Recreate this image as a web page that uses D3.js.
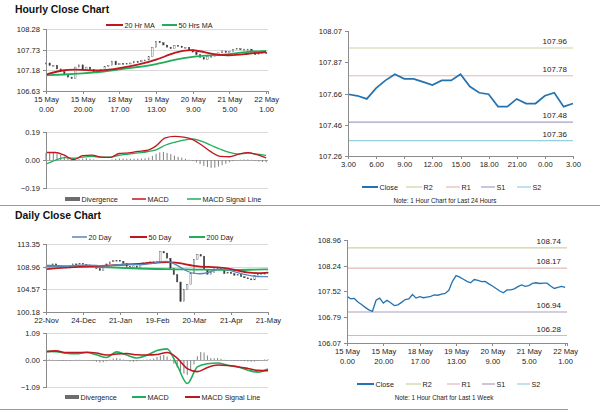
<!DOCTYPE html>
<html>
<head>
<meta charset="utf-8">
<script src="https://cdn.jsdelivr.net/npm/d3@7"></script>
<style>
body { margin: 0; background: #fff; }
svg { font-family: "Liberation Sans", Arial, sans-serif; }
.axis path, .axis line { stroke: #8c8c8c; shape-rendering: crispEdges; }
.axis text { fill: #222; font-size: 7.6px; }
.legend text { fill: #222; font-size: 7.2px; }
.title { font-size: 10.4px; font-weight: bold; fill: #111; }
.note { font-size: 6.3px; fill: #222; }
</style>
</head>
<body>
<div id="chart"></div>
<script>

/********************************************************************
* Data
*********************************************************************/
// hourly closes, one value every 2 bars (bar 0 = 15 May 0.00)
var hourStep = 2;
var hourClose = [107.38, 107.31, 107.32, 107.22, 107.15, 107.07, 107.00, 106.96, 107.27, 107.33,
	107.19, 107.27, 107.20, 107.12, 107.14, 107.21, 107.29, 107.31, 107.43, 107.33,
	107.37, 107.34, 107.36, 107.38, 107.42, 107.41, 107.44, 107.46, 107.55, 107.80,
	107.96, 107.92, 107.86, 107.80, 107.76, 107.85, 107.83, 107.79, 107.80, 107.73,
	107.67, 107.60, 107.53, 107.48, 107.56, 107.56, 107.59, 107.65, 107.70, 107.66,
	107.68, 107.74, 107.76, 107.74, 107.75, 107.75, 107.67, 107.60, 107.63, 107.66,
	107.63];
var hourBars = 121;

// moving averages, one value every 10 bars
var maStep = 10;
var ma20Hr = [107.07, 107.21, 107.20, 107.16, 107.24, 107.33, 107.45, 107.67, 107.76, 107.61, 107.57, 107.63, 107.67];
var ma50Hr = [107.05, 107.07, 107.10, 107.14, 107.21, 107.27, 107.34, 107.47, 107.55, 107.58, 107.61, 107.69, 107.70];

// hourly MACD, one value every 5 bars
var macdStep = 5;
var hourMacd = [0.051, 0.051, 0.033, 0.002, 0.029, 0.033, 0.020, 0.018, 0.044, 0.048, 0.058, 0.065, 0.096,
	0.150, 0.160, 0.155, 0.138, 0.100, 0.055, 0.025, 0.022, 0.040, 0.050, 0.036, 0.015];
var hourSignal = [-0.027, -0.002, 0.016, 0.012, 0.020, 0.024, 0.020, 0.020, 0.032, 0.040, 0.048, 0.056, 0.069,
	0.100, 0.120, 0.135, 0.144, 0.126, 0.100, 0.073, 0.051, 0.040, 0.046, 0.040, 0.031];
// hourly divergence, one value every 2 bars
var hourDiv = [0.050, 0.050, 0.048, 0.042, 0.034, 0.024, 0.012, -0.006, -0.004, 0.006,
	0.010, 0.012, 0.008, 0.004, 0.001, -0.002, -0.002, 0.000, 0.004, 0.008,
	0.010, 0.010, 0.009, 0.008, 0.008, 0.009, 0.010, 0.012, 0.016, 0.028,
	0.042, 0.052, 0.055, 0.048, 0.040, 0.030, 0.022, 0.016, 0.008, 0.002,
	-0.006, -0.016, -0.028, -0.040, -0.048, -0.053, -0.052, -0.045, -0.035, -0.025,
	-0.015, -0.008, -0.002, 0.002, 0.004, 0.004, 0.002, -0.004, -0.010, -0.014,
	-0.016];

var hourTickIdx = [0, 20, 40, 60, 80, 100, 120];
var hourTickDay = ["15 May", "15 May", "18 May", "19 May", "20 May", "21 May", "22 May"];
var hourTickTime = ["0.00", "20.00", "17.00", "13.00", "9.00", "5.00", "1.00"];

// last 24 hours
var dayClose = [107.66, 107.65, 107.63, 107.70, 107.75, 107.79, 107.76, 107.76, 107.74, 107.72,
	107.75, 107.75, 107.79, 107.71, 107.67, 107.66, 107.58, 107.58, 107.63, 107.60,
	107.60, 107.65, 107.67, 107.58, 107.60];
var dayTickIdx = [0, 3, 6, 9, 12, 15, 18, 21, 24];
var dayTickLabels = ["3.00", "6.00", "9.00", "12.00", "15.00", "18.00", "21.00", "0.00", "3.00"];
var levels24 = [107.96, 107.78, 107.48, 107.36];   // R2, R1, S1, S2
var levelsWeek = [108.74, 108.17, 106.94, 106.28];

// daily closes, one value every 2 bars (bar 0 = 22-Nov)
var dailyStep = 2;
var dailyClose = [108.9, 109.1, 109.5, 109.0, 108.8, 108.9, 108.7, 109.0, 109.5, 109.4,
	109.6, 109.4, 109.3, 109.1, 109.0, 108.6, 108.2, 108.9, 109.5, 109.9,
	110.1, 110.2, 110.0, 109.6, 109.0, 108.8, 109.1, 108.8, 109.5, 109.7,
	109.8, 109.9, 109.7, 109.9, 111.9, 111.6, 110.6, 108.6, 107.4, 106.0,
	102.2, 104.6, 105.5, 107.7, 110.4, 111.3, 111.0, 108.4, 107.5, 107.8,
	108.8, 108.7, 108.4, 107.6, 107.9, 107.6, 107.3, 107.5, 107.0, 106.8,
	106.6, 106.4, 107.2, 107.5, 107.6, 107.7, 107.8];
var dailyBars = 132;

var ma20Step = 6;
var ma20Day = [108.96, 108.9, 109.0, 109.2, 109.3, 109.2, 109.0, 109.3, 109.5, 109.3, 109.4, 109.8,
	110.2, 109.3, 107.9, 107.5, 107.7, 108.6, 108.4, 107.8, 107.3, 107.0, 107.05];
var maLongStep = 11;
var ma50Day = [108.5, 108.8, 109.0, 109.1, 109.3, 109.5, 109.8, 109.9, 109.0, 108.9, 108.6, 107.6, 107.8];
var ma200Day = [109.15, 109.05, 109.0, 108.9, 108.75, 108.6, 108.5, 108.45, 108.4, 108.35, 108.3, 108.35, 108.45];

// daily MACD, one value every 6 bars
var dMacdStep = 6;
var dailyMacd = [0.35, 0.34, 0.27, 0.25, 0.30, 0.21, 0.10, 0.33, 0.20, 0.08, 0.19, 0.38,
	0.45, -0.22, -0.95, -0.28, -0.15, -0.12, -0.21, -0.28, -0.41, -0.49, -0.36];
var dailySignal = [0.33, 0.37, 0.30, 0.30, 0.31, 0.28, 0.20, 0.24, 0.26, 0.21, 0.20, 0.22,
	0.30, 0.08, -0.35, -0.47, -0.30, -0.20, -0.22, -0.27, -0.34, -0.42, -0.43];
// daily divergence, one value every 2 bars
var dailyDiv = [0.01, 0.02, 0.01, -0.01, -0.03, -0.04, -0.03, -0.02, 0.00, 0.01,
	0.01, 0.00, -0.01, -0.02, -0.04, -0.07, -0.10, -0.09, -0.05, 0.02,
	0.06, 0.08, 0.06, 0.02, -0.02, -0.06, -0.07, -0.05, -0.02, 0.01,
	0.02, 0.03, 0.06, 0.12, 0.18, 0.20, 0.14, 0.02, -0.14, -0.30,
	-0.45, -0.55, -0.60, -0.45, -0.18, 0.15, 0.32, 0.30, 0.18, 0.08,
	0.07, 0.08, 0.05, 0.01, -0.01, -0.02, -0.03, -0.03, -0.04, -0.05,
	-0.06, -0.07, -0.06, -0.04, -0.01, 0.02, 0.03];

var dailyTickIdx = [0, 22, 44, 66, 88, 110, 132];
var dailyTickLabels = ["22-Nov", "24-Dec", "21-Jan", "19-Feb", "20-Mar", "21-Apr", "21-May"];

var levelNames = ["R2", "R1", "S1", "S2"];
var levelColors = ["#c9d6a0", "#e3b8b7", "#aa9fbf", "#97cfe0"];

/********************************************************************
* Helpers
*********************************************************************/
var svg = d3.select("#chart").append("svg")
	.attr("width", 600)
	.attr("height", 413);

var fmt = d3.format(".2f");

function yAxis(x0, y, ticks) {
	svg.append("g")
		.attr("class", "axis")
		.attr("transform", "translate(" + x0 + ",0)")
		.call(d3.axisLeft(y).tickValues(ticks).tickSize(3).tickPadding(3).tickFormat(fmt));
}

function grid(x, y, ticks, color) {
	svg.append("g").selectAll("line")
		.data(ticks)
		.enter()
		.append("line")
		.attr("x1", x.range()[0])
		.attr("x2", x.range()[1])
		.attr("y1", function(d){ return Math.round(y(d)) + 0.5; })
		.attr("y2", function(d){ return Math.round(y(d)) + 0.5; })
		.attr("stroke", color || "#d9d9d9");
}

function twoLineAxis(x, y0, idx, top, bottom) {
	var g = svg.append("g")
		.attr("class", "axis")
		.attr("transform", "translate(0," + y0 + ")")
		.call(d3.axisBottom(x).tickValues(idx).tickSize(3).tickPadding(3));
	g.selectAll(".tick text").each(function(d, i){
		var t = d3.select(this).text(null).attr("dy", 0);
		t.append("tspan").attr("x", 0).attr("dy", "0.71em").text(top[i]);
		t.append("tspan").attr("x", 0).attr("dy", "1.25em").text(bottom[i]);
	});
}

function oneLineAxis(x, y0, idx, labels) {
	svg.append("g")
		.attr("class", "axis")
		.attr("transform", "translate(0," + y0 + ")")
		.call(d3.axisBottom(x).tickValues(idx).tickSize(3).tickPadding(3)
			.tickFormat(function(d, i){ return labels[i]; }));
}

// body runs from the previous close to this close
function candles(x, y, data, step) {
	svg.append("g").selectAll("rect")
		.data(data)
		.enter()
		.append("rect")
		.attr("x", function(d, i){ return x(i * step) - 0.7; })
		.attr("width", 1.4)
		.attr("y", function(d, i){
			var o = i > 0 ? data[i - 1] : d;
			return y(Math.max(o, d));
		})
		.attr("height", function(d, i){
			var o = i > 0 ? data[i - 1] : d;
			return Math.max(1, Math.abs(y(o) - y(d)));
		})
		.attr("fill", function(d, i){
			var o = i > 0 ? data[i - 1] : d;
			return d >= o ? "#fff" : "#333";
		})
		.attr("stroke", "#444")
		.attr("stroke-width", 0.4);
}

function bars(x, y, data, step, w) {
	svg.append("g").selectAll("rect")
		.data(data)
		.enter()
		.append("rect")
		.attr("x", function(d, i){ return x(i * step) - w / 2; })
		.attr("width", w)
		.attr("y", function(d){ return y(Math.max(0, d)); })
		.attr("height", function(d){ return Math.abs(y(d) - y(0)); })
		.attr("fill", "#8a8a8a");
}

function series(x, y, data, step, color, width, curve) {
	var line = d3.line()
		.x(function(d, i){ return x(i * step); })
		.y(function(d){ return y(d); })
		.curve(curve || d3.curveMonotoneX);
	svg.append("path")
		.datum(data)
		.attr("d", line)
		.attr("fill", "none")
		.attr("stroke", color)
		.attr("stroke-width", width);
}

function legend(y0, items) {
	var g = svg.append("g").attr("class", "legend");
	items.forEach(function(it){
		if (it.block) {
			g.append("rect")
				.attr("x", it.x).attr("y", y0 - 2)
				.attr("width", it.w).attr("height", 4)
				.attr("fill", it.color);
		} else {
			g.append("line")
				.attr("x1", it.x).attr("x2", it.x + it.w)
				.attr("y1", y0).attr("y2", y0)
				.attr("stroke", it.color)
				.attr("stroke-width", it.sw || 2);
		}
		g.append("text")
			.attr("x", it.x + it.w + 1.5)
			.attr("y", y0 + 2.6)
			.text(it.label);
	});
}

function levelLines(x, y, values) {
	var g = svg.append("g");
	g.selectAll("line")
		.data(values)
		.enter()
		.append("line")
		.attr("x1", x.range()[0])
		.attr("x2", x.range()[1])
		.attr("y1", function(d){ return y(d); })
		.attr("y2", function(d){ return y(d); })
		.attr("stroke", function(d, i){ return levelColors[i]; })
		.attr("stroke-width", 1.2);
	g.selectAll("text")
		.data(values)
		.enter()
		.append("text")
		.attr("x", x.range()[1] - 6)
		.attr("y", function(d){ return y(d) - 4; })
		.attr("text-anchor", "end")
		.style("font-size", "8px")
		.style("fill", "#222")
		.text(fmt);
}

/********************************************************************
* Titles and frames
*********************************************************************/
svg.append("text").attr("class", "title").attr("x", 15).attr("y", 13).text("Hourly Close Chart");
svg.append("text").attr("class", "title").attr("x", 15).attr("y", 219).text("Daily Close Chart");

svg.append("line").attr("x1", 0).attr("x2", 600).attr("y1", 205.5).attr("y2", 205.5)
	.attr("stroke", "#9a9a9a");
svg.append("line").attr("x1", 0).attr("x2", 568).attr("y1", 409.5).attr("y2", 409.5)
	.attr("stroke", "#9a9a9a");

/********************************************************************
* Hourly candles + MAs
*********************************************************************/
var xH = d3.scaleLinear().domain([0, hourBars]).range([46, 268]);
var yH = d3.scaleLinear().domain([106.63, 108.28]).range([91, 29.3]);
var yHTicks = [108.28, 107.73, 107.18, 106.63];

grid(xH, yH, yHTicks.slice(0, 3));
candles(xH, yH, hourClose, hourStep);
series(xH, yH, ma50Hr, maStep, "#1fae5a", 1.8, d3.curveBasis);
series(xH, yH, ma20Hr, maStep, "#c0161d", 1.8, d3.curveBasis);
yAxis(46, yH, yHTicks);
twoLineAxis(xH, 91, hourTickIdx, hourTickDay, hourTickTime);
legend(25, [
	{x: 106, w: 17, label: "20 Hr MA", color: "#c0161d"},
	{x: 162, w: 15, label: "50 Hrs MA", color: "#1fae5a"}
]);

/********************************************************************
* Hourly MACD
*********************************************************************/
var yHM = d3.scaleLinear().domain([-0.19, 0.19]).range([188, 132]);
grid(xH, yHM, [0.19, -0.19]);
grid(xH, yHM, [0], "#a8a8a8");
bars(xH, yHM, hourDiv, hourStep, 1.1);
series(xH, yHM, hourSignal, macdStep, "#1fae5a", 1.3);
series(xH, yHM, hourMacd, macdStep, "#c0161d", 1.3);
yAxis(46, yHM, [0.19, 0, -0.19]);
legend(199, [
	{x: 65, w: 15, label: "Divergence", color: "#6d6d6d", block: true},
	{x: 132, w: 14, label: "MACD", color: "#c0161d", sw: 1.5},
	{x: 187, w: 14, label: "MACD Signal Line", color: "#1fae5a", sw: 1.5}
]);

/********************************************************************
* Last 24 hours
*********************************************************************/
var xC = d3.scaleLinear().domain([0, dayClose.length - 1]).range([348, 573]);
var yC = d3.scaleLinear().domain([107.26, 108.07]).range([156, 31]);
levelLines(xC, yC, levels24);
series(xC, yC, dayClose, 1, "#2473b1", 1.7, d3.curveLinear);
yAxis(348, yC, [108.07, 107.87, 107.66, 107.46, 107.26]);
oneLineAxis(xC, 156, dayTickIdx, dayTickLabels);
legend(187, [
	{x: 362, w: 16, label: "Close", color: "#2473b1"},
	{x: 406, w: 16, label: levelNames[0], color: levelColors[0], sw: 1.2},
	{x: 446, w: 14, label: levelNames[1], color: levelColors[1], sw: 1.2},
	{x: 481, w: 14, label: levelNames[2], color: levelColors[2], sw: 1.2},
	{x: 517, w: 14, label: levelNames[3], color: levelColors[3], sw: 1.2}
]);
svg.append("text").attr("class", "note").attr("x", 445).attr("y", 203)
	.attr("text-anchor", "middle").text("Note: 1 Hour Chart for Last 24 Hours");

/********************************************************************
* Daily candles + MAs
*********************************************************************/
var xD = d3.scaleLinear().domain([0, dailyBars]).range([46, 268]);
var yD = d3.scaleLinear().domain([100.18, 113.35]).range([312, 244]);
var yDTicks = [113.35, 108.96, 104.57, 100.18];

grid(xD, yD, yDTicks.slice(0, 3));
candles(xD, yD, dailyClose, dailyStep);
series(xD, yD, ma200Day, maLongStep, "#1fae5a", 1.8, d3.curveBasis);
series(xD, yD, ma50Day, maLongStep, "#c0161d", 1.8, d3.curveBasis);
series(xD, yD, ma20Day, ma20Step, "#5a86bd", 1.3, d3.curveBasis);
yAxis(46, yD, yDTicks);
oneLineAxis(xD, 312, dailyTickIdx, dailyTickLabels);
legend(237, [
	{x: 72, w: 15, label: "20 Day", color: "#5a86bd", sw: 1.5},
	{x: 130, w: 17, label: "50 Day", color: "#c0161d"},
	{x: 189, w: 16, label: "200 Day", color: "#1fae5a"}
]);

/********************************************************************
* Daily MACD
*********************************************************************/
var yDM = d3.scaleLinear().domain([-1.09, 1.09]).range([387, 333]);
grid(xD, yDM, [1.09, -1.09]);
grid(xD, yDM, [0], "#a8a8a8");
bars(xD, yDM, dailyDiv, dailyStep, 1.1);
series(xD, yDM, dailyMacd, dMacdStep, "#1fae5a", 1.6);
series(xD, yDM, dailySignal, dMacdStep, "#c0161d", 1.6);
yAxis(46, yDM, [1.09, 0, -1.09]);
legend(397, [
	{x: 65, w: 14, label: "Divergence", color: "#6d6d6d", block: true},
	{x: 132, w: 14, label: "MACD", color: "#1fae5a"},
	{x: 185, w: 15, label: "MACD Signal Line", color: "#c0161d"}
]);

/********************************************************************
* Last week
*********************************************************************/
var xF = d3.scaleLinear().domain([0, hourBars]).range([347, 567]);
var yF = d3.scaleLinear().domain([106.07, 108.96]).range([343, 240]);
levelLines(xF, yF, levelsWeek);
series(xF, yF, hourClose, hourStep, "#2473b1", 1.3, d3.curveLinear);
yAxis(347, yF, [108.96, 108.24, 107.52, 106.79, 106.07]);
twoLineAxis(xF, 343, hourTickIdx, hourTickDay, hourTickTime);
legend(384, [
	{x: 357, w: 17, label: "Close", color: "#2473b1"},
	{x: 406, w: 15, label: levelNames[0], color: levelColors[0], sw: 1.2},
	{x: 447, w: 13, label: levelNames[1], color: levelColors[1], sw: 1.2},
	{x: 482, w: 13, label: levelNames[2], color: levelColors[2], sw: 1.2},
	{x: 517, w: 13, label: levelNames[3], color: levelColors[3], sw: 1.2}
]);
svg.append("text").attr("class", "note").attr("x", 444).attr("y", 400)
	.attr("text-anchor", "middle").text("Note: 1 Hour Chart for Last 1 Week");

</script>
</body>
</html>
